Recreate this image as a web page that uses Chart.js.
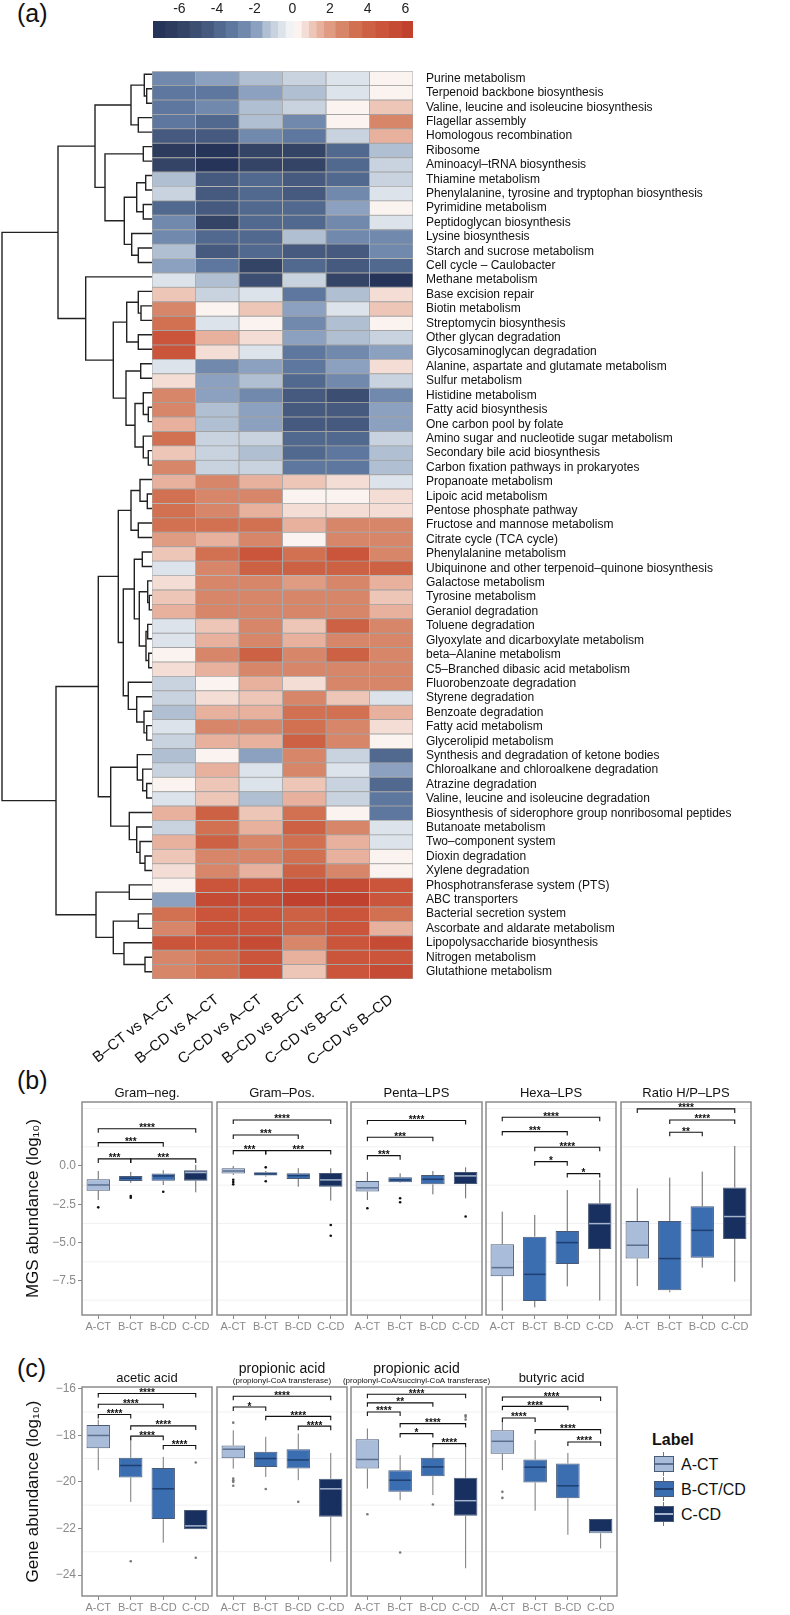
<!DOCTYPE html>
<html lang="en">
<head>
<meta charset="UTF-8" />
<title>KEGG pathways heatmap and abundance boxplots</title>
<script src="https://cdn.jsdelivr.net/npm/chart.js"></script>
<style>
  body { margin: 0; background: #fff; font-family: "Liberation Sans", Arial, Helvetica, sans-serif; }
  #page { position: relative; width: 790px; height: 1615px; overflow: hidden; background: #fff; }
  canvas { position: absolute; }
  .tag { position: absolute; font-size: 25px; line-height: 1; color: #111; }
  .leg { position: absolute; font-size: 16px; line-height: 1; color: #111; }
  .key { position: absolute; width: 20px; height: 24px; }
  .key .wh { position: absolute; left: 9px; top: 0; width: 1px; height: 24px; background: #777; }
  .key .bx { position: absolute; left: 0; top: 4px; width: 18px; height: 14px; border: 1px solid #4a5a75; }
  .key .md { position: absolute; left: 1px; top: 11px; width: 18px; height: 2px; }
</style>
</head>
<body>
<div id="page">
  <div class="tag" style="left:17px; top:1px;">(a)</div>
  <div class="tag" style="left:17px; top:1068px;">(b)</div>
  <div class="tag" style="left:17px; top:1356px;">(c)</div>

  <div class="leg" style="left:652px; top:1432px; font-weight:bold;">Label</div>
  <div class="key" style="left:654px; top:1452px;"><div class="wh"></div><div class="bx" style="background:#a9bcd9"></div><div class="md" style="background:#5d6f8f"></div></div>
  <div class="leg" style="left:681px; top:1457px;">A-CT</div>
  <div class="key" style="left:654px; top:1477px;"><div class="wh"></div><div class="bx" style="background:#3b6db1"></div><div class="md" style="background:#1e3f70"></div></div>
  <div class="leg" style="left:681px; top:1482px;">B-CT/CD</div>
  <div class="key" style="left:654px; top:1502px;"><div class="wh"></div><div class="bx" style="background:#18305f"></div><div class="md" style="background:#a5b4cc"></div></div>
  <div class="leg" style="left:681px; top:1507px;">C-CD</div>
</div>

<script>
// ---------- heatmap data ----------
const pathways = [
  'Purine metabolism', 'Terpenoid backbone biosynthesis', 'Valine, leucine and isoleucine biosynthesis',
  'Flagellar assembly', 'Homologous recombination', 'Ribosome', 'Aminoacyl–tRNA biosynthesis',
  'Thiamine metabolism', 'Phenylalanine, tyrosine and tryptophan biosynthesis', 'Pyrimidine metabolism',
  'Peptidoglycan biosynthesis', 'Lysine biosynthesis', 'Starch and sucrose metabolism',
  'Cell cycle – Caulobacter', 'Methane metabolism', 'Base excision repair', 'Biotin metabolism',
  'Streptomycin biosynthesis', 'Other glycan degradation', 'Glycosaminoglycan degradation',
  'Alanine, aspartate and glutamate metabolism', 'Sulfur metabolism', 'Histidine metabolism',
  'Fatty acid biosynthesis', 'One carbon pool by folate', 'Amino sugar and nucleotide sugar metabolism',
  'Secondary bile acid biosynthesis', 'Carbon fixation pathways in prokaryotes', 'Propanoate metabolism',
  'Lipoic acid metabolism', 'Pentose phosphate pathway', 'Fructose and mannose metabolism',
  'Citrate cycle (TCA cycle)', 'Phenylalanine metabolism', 'Ubiquinone and other terpenoid–quinone biosynthesis',
  'Galactose metabolism', 'Tyrosine metabolism', 'Geraniol degradation', 'Toluene degradation',
  'Glyoxylate and dicarboxylate metabolism', 'beta–Alanine metabolism', 'C5–Branched dibasic acid metabolism',
  'Fluorobenzoate degradation', 'Styrene degradation', 'Benzoate degradation', 'Fatty acid metabolism',
  'Glycerolipid metabolism', 'Synthesis and degradation of ketone bodies',
  'Chloroalkane and chloroalkene degradation', 'Atrazine degradation',
  'Valine, leucine and isoleucine degradation', 'Biosynthesis of siderophore group nonribosomal peptides',
  'Butanoate metabolism', 'Two–component system', 'Dioxin degradation', 'Xylene degradation',
  'Phosphotransferase system (PTS)', 'ABC transporters', 'Bacterial secretion system',
  'Ascorbate and aldarate metabolism', 'Lipopolysaccharide biosynthesis', 'Nitrogen metabolism',
  'Glutathione metabolism'
];
const comparisons = ['B–CT vs A–CT', 'B–CD vs A–CT', 'C–CD vs A–CT', 'B–CD vs B–CT', 'C–CD vs B–CT', 'C–CD vs B–CD'];

const bctVsAct = [-2.6,-3.2,-3.2,-3.2,-4.5,-6.6,-5.8,-1.4,-1.0,-3.9,-2.6,-2.6,-1.4,-2.0,-0.5,1.1,2.6,3.0,4.6,4.6,
  -0.5,0.6,2.6,2.6,1.5,3.3,1.1,2.6,1.5,3.3,3.0,3.3,2.0,1.1,-0.5,0.6,1.1,1.5,-0.5,-0.5,
  0.2,0.6,-1.0,-1.0,-1.4,-0.5,-1.0,-1.4,-1.0,0.2,-0.5,1.5,-1.0,1.5,1.1,0.6,0.2,-2.0,3.3,2.6,4.8,2.6,2.6];
const bcdVsAct = [-2.0,-3.2,-2.6,-3.9,-4.5,-7.0,-7.0,-4.2,-4.5,-4.5,-5.5,-3.6,-4.5,-3.2,-1.4,-1.0,0.2,-0.5,1.5,0.6,
  -2.6,-2.0,-2.0,-1.4,-1.4,-1.0,-1.0,-1.0,2.6,2.6,2.6,3.3,1.5,3.3,2.6,2.6,2.6,2.6,1.1,1.5,
  2.6,1.5,0.2,0.6,1.5,2.6,1.5,0.2,1.5,1.1,1.1,4.2,3.3,4.2,2.6,2.6,4.8,5.3,4.8,4.8,4.8,3.3,3.3];
const ccdVsAct = [-1.4,-2.0,-1.4,-1.4,-2.6,-5.8,-5.8,-3.6,-3.6,-3.6,-3.9,-3.6,-3.9,-5.5,-5.0,-0.5,1.1,0.2,0.6,-0.5,
  -2.0,-1.4,-2.6,-2.0,-2.0,-1.0,-1.4,-1.0,1.5,2.6,1.5,3.3,2.6,4.6,3.8,2.6,2.6,2.6,2.6,2.6,
  3.8,2.6,1.5,1.1,1.5,2.6,1.5,-2.0,-0.5,-0.5,-1.4,1.1,1.5,2.6,2.6,1.5,4.8,5.7,4.8,4.8,5.7,4.8,4.8];
const bcdVsBct = [-1.0,-1.4,-1.0,-2.6,-3.2,-5.5,-5.5,-4.5,-4.5,-3.9,-3.9,-1.4,-4.5,-3.9,-1.0,-3.2,-2.0,-2.6,-2.0,-3.2,
  -3.2,-3.9,-4.5,-4.5,-4.5,-3.9,-3.9,-3.2,1.1,0.2,0.6,1.5,0.2,3.3,3.8,2.0,2.6,2.6,1.1,1.5,
  2.6,2.6,0.6,2.6,3.3,3.3,4.2,2.6,2.6,1.1,1.5,3.3,4.2,3.3,3.3,4.2,5.3,6.1,4.2,4.2,2.6,1.5,1.1];
const ccdVsBct = [-0.5,-0.5,0.2,0.2,-1.0,-3.9,-3.9,-3.6,-2.6,-2.0,-2.6,-2.6,-4.5,-4.5,-5.5,-1.4,-0.5,-1.4,-1.4,-2.6,
  -2.0,-2.6,-5.0,-4.5,-4.2,-3.9,-3.2,-3.2,0.6,0.2,0.6,2.6,2.6,4.6,3.8,2.6,2.6,2.6,3.8,2.6,
  3.8,2.6,2.6,1.1,3.3,2.6,2.6,-1.0,-0.5,-1.0,-1.0,0.2,2.6,1.5,1.5,2.6,5.3,6.1,4.8,4.6,4.8,4.8,4.8];
const ccdVsBcd = [0.2,0.2,1.1,2.6,1.5,-1.4,-1.0,-1.0,-0.5,0.2,-0.5,-2.6,-2.6,-3.9,-7.0,0.6,1.1,0.2,-1.0,-2.0,
  0.6,-1.0,-2.6,-2.0,-2.0,-1.0,-1.4,-1.4,-0.5,0.6,0.6,2.6,2.6,2.6,3.8,1.5,1.1,1.5,2.6,2.6,
  2.6,2.6,2.6,-0.5,1.5,0.6,0.2,-3.6,-2.0,-3.6,-3.0,-3.0,-0.5,-0.5,0.2,0.2,4.8,4.8,3.3,1.5,5.7,4.8,5.3];

// colour key: block edges and tick labels
const scaleBreaks = [-7.4,-6.74,-6.12,-5.47,-4.83,-4.18,-3.56,-2.9,-2.23,-1.61,-1.17,-0.78,-0.37,0.04,
  0.48,0.87,1.27,1.66,2.28,2.99,3.7,4.41,5.12,5.82,6.41];
const scaleTicks = [-6, -4, -2, 0, 2, 4, 6];
const scaleColors = ['#27345a','#2d3b5f','#344467','#3d4e73','#465a80','#52698f','#5d779e','#7189ad',
  '#8ba1bf','#b0bfd2','#c8d3df','#dde3eb','#f1f2f4','#faf3f0','#f4ddd5','#edc6b8','#e7b19e','#e09c83',
  '#d7866a','#d27152','#cd6143','#ca553a','#c64b35','#c1412f'];

// row dendrogram: [merge height, left, right], leaves are row indices
const rowTree = [150,
  [94,
    [57,
      [21, [7.7, 0, [5.3, 1, 2]], [13.7, 3, 4]],
      [47, [8.7, 5, 6], [27.7, [15.3, [6.3, 7, 8], [8.7, 9, 10]], [20.3, 11, [13.7, 12, 13]]]]],
    [66.3, 14,
      [38.7,
        [25.3, [13.7, 15, [11, 16, 17]], [13.7, 18, 19]],
        [26, [11.3, 20, 21], [17, [8.7, 22, [3.7, 23, 24]], [8.7, 25, [3.7, 26, 27]]]]]]],
  [96,
    [53.7,
      [33.7,
        [21, [12, 28, [4.7, 29, 30]], [13.7, 31, 32]],
        [28.7,
          [17.7, [9.7, 33, 34], [12.7, [4.3, 35, [2.7, 36, 37]], [6, [4.3, 38, 39], [3.3, 40, 41]]]],
          [23.7, 42, [15.3, 43, [8, 44, [5.3, 45, 46]]]]]],
      [41.3,
        [14.7, 47, [9.3, 48, [5.3, 49, 50]]],
        [22.7, 51, [15.3, 52, [12, 53, [7, 54, 55]]]]]],
    [56, [22.7, 56, 57], [38.7, [13.7, 58, 59], [28, 60, [7, 61, 62]]]]]];

// ---------- boxplot data: [min, q1, median, q3, max] per group ----------
const groups = ['A-CT', 'B-CT', 'B-CD', 'C-CD'];

const gramNegStats = [[-2.22,-1.61,-1.24,-0.87,-0.33],[-1.1,-0.98,-0.8,-0.65,-0.39],[-1.24,-0.96,-0.65,-0.5,-0.28],[-1.72,-0.96,-0.43,-0.28,0.07]];
const gramNegOut = [[-2.7],[-1.96,-2.07],[-1.68],[]];
const gramNegSig = [[0,1,0.46,'***'],[1,3,0.46,'***'],[0,2,1.52,'***'],[0,3,2.43,'****']];

const gramPosStats = [[-0.59,-0.5,-0.33,-0.15,0.0],[-0.7,-0.63,-0.52,-0.41,-0.33],[-1.35,-0.85,-0.63,-0.48,-0.15],[-2.26,-1.35,-0.91,-0.46,-0.15]];
const gramPosOut = [[-0.9,-1.05,-1.2],[-0.09,-1.0],[],[-3.85,-4.55]];
const gramPosSig = [[0,1,1.0,'***'],[1,3,1.0,'***'],[0,2,2.02,'***'],[0,3,3.0,'****']];

const pentaStats = [[-2.22,-1.67,-1.43,-0.98,-0.39],[-1.1,-1.07,-0.91,-0.74,-0.48],[-1.85,-1.2,-0.87,-0.59,-0.33],[-2.11,-1.17,-0.65,-0.39,-0.09]];
const pentaOut = [[-2.76],[-2.11,-2.37],[],[-3.3]];
const pentaSig = [[0,1,0.67,'***'],[0,2,1.87,'***'],[0,3,2.96,'****']];

const hexaStats = [[-9.44,-7.2,-6.63,-5.11,-2.98],[-9.22,-8.81,-7.07,-4.61,-3.2],[-7.85,-6.39,-5.0,-4.24,-1.57],[-8.78,-5.41,-3.76,-2.43,-0.91]];
const hexaOut = [[],[],[],[]];
const hexaSig = [[0,3,3.18,'****'],[0,2,2.24,'***'],[1,3,1.22,'****'],[1,2,0.28,'*'],[2,3,-0.5,'*']];

const ratioStats = [[-7.83,-6.04,-5.17,-3.59,-1.46],[-8.24,-8.11,-6.04,-3.59,-0.76],[-6.63,-5.98,-4.2,-2.63,-0.37],[-7.55,-4.76,-3.3,-1.41,1.3]];
const ratioOut = [[],[],[],[]];
const ratioSig = [[0,3,3.72,'****'],[1,3,3.0,'****'],[1,2,2.2,'**']];

const aceticStats = [[-19.5,-18.56,-18.01,-17.56,-17.33],[-20.86,-19.81,-19.3,-18.97,-18.1],[-22.61,-21.6,-20.3,-19.41,-18.93],[-22.03,-22.03,-21.89,-21.21,-21.21]];
const aceticOut = [[],[-23.41],[],[-19.17,-23.26]];
const aceticSig = [[0,3,-16.21,'****'],[0,2,-16.67,'****'],[0,1,-17.11,'****'],[1,3,-17.6,'****'],[1,2,-18.04,'****'],[2,3,-18.44,'****']];

const propATStats = [[-19.43,-18.99,-18.6,-18.44,-17.79],[-19.79,-19.36,-19.0,-18.71,-18.07],[-19.93,-19.43,-19.06,-18.6,-17.93],[-23.43,-21.5,-20.3,-19.87,-18.76]];
const propATOut = [[-17.46,-19.86,-19.93,-20.0,-20.17],[-20.31],[-20.86],[]];
const propATSig = [[0,3,-16.33,'****'],[0,1,-16.79,'*'],[1,3,-17.19,'****'],[2,3,-17.61,'****']];

const propSTStats = [[-20.29,-19.43,-19.04,-18.17,-17.71],[-20.79,-20.43,-19.93,-19.5,-18.86],[-20.57,-19.76,-19.36,-18.97,-18.53],[-23.71,-21.46,-20.81,-19.83,-18.54]];
const propSTOut = [[-21.39],[-23.03],[-20.97],[-17.14,-17.21,-17.33]];
const propSTSig = [[0,3,-16.24,'****'],[0,2,-16.61,'**'],[0,1,-17.0,'****'],[1,3,-17.5,'****'],[1,2,-17.93,'*'],[2,3,-18.36,'****']];

const butyricStats = [[-19.5,-18.79,-18.26,-17.79,-17.36],[-21.24,-20.03,-19.37,-19.04,-18.21],[-22.27,-20.71,-20.17,-19.21,-18.76],[-22.86,-22.21,-22.15,-21.6,-21.6]];
const butyricOut = [[-20.43,-20.69],[],[],[]];
const butyricSig = [[0,3,-16.36,'****'],[0,2,-16.76,'****'],[0,1,-17.26,'****'],[1,3,-17.76,'****'],[2,3,-18.29,'****']];

const mgsTicks = [0, -2.5, -5, -7.5];
const mgsMinor = [3.75, 1.25, -1.25, -3.75, -6.25, -8.75];
const geneTicks = [-16, -18, -20, -22, -24];
const geneMinor = [-17, -19, -21, -23];

// ---------- look ----------
const FONT = '"Liberation Sans", Arial, Helvetica, sans-serif';
Chart.defaults.font.family = FONT;
Chart.defaults.color = '#111';
Chart.defaults.animation = false;
Chart.defaults.responsive = false;
Chart.defaults.plugins.legend.display = false;
Chart.defaults.plugins.tooltip.enabled = false;

const boxFill = ['#a9bcd9', '#3b6db1', '#3b6db1', '#18305f'];
const medColors = ['#5d6f8f', '#1e3f70', '#1e3f70', '#a5b4cc'];

function place(id, left, top, w, h) {
  const c = document.createElement('canvas');
  c.id = id;
  c.width = w;
  c.height = h;
  c.style.left = left + 'px';
  c.style.top = top + 'px';
  document.getElementById('page').appendChild(c);
  return c;
}

function cellColor(v) {
  for (let i = 0; i < scaleColors.length; i++) {
    if (v < scaleBreaks[i + 1]) return scaleColors[i];
  }
  return scaleColors[scaleColors.length - 1];
}

// colour key
new Chart(place('key', 0, 0, 790, 38), {
  type: 'bar',
  data: {
    labels: [''],
    datasets: scaleColors.map((c, i) => ({
      data: [[scaleBreaks[i], scaleBreaks[i + 1]]],
      backgroundColor: c, borderWidth: 0, grouped: false,
      barPercentage: 1, categoryPercentage: 1
    }))
  },
  options: {
    indexAxis: 'y',
    layout: { padding: { left: 153, right: 377 } },
    scales: {
      x: {
        position: 'top', min: scaleBreaks[0], max: scaleBreaks[scaleBreaks.length - 1],
        afterBuildTicks: s => { s.ticks = scaleTicks.map(v => ({ value: v })); },
        afterFit: s => { s.height = 21; },
        grid: { display: false, drawTicks: false }, border: { display: false },
        ticks: { font: { size: 14 }, color: '#222', padding: 3 }
      },
      y: { display: false }
    }
  }
});

// heatmap
const heatCols = [bctVsAct, bcdVsAct, ccdVsAct, bcdVsBct, ccdVsBct, ccdVsBcd];
new Chart(place('heat', 0, 59, 790, 1041), {
  type: 'bar',
  data: {
    labels: pathways,
    datasets: heatCols.map(col => ({
      data: col.map(() => 1),
      backgroundColor: col.map(cellColor),
      borderColor: '#a3a3a3', borderWidth: 0.8, borderSkipped: false,
      barPercentage: 1, categoryPercentage: 1, xAxisID: 'x'
    }))
  },
  options: {
    indexAxis: 'y',
    layout: { padding: { left: 152, top: 8 } },
    scales: {
      x: { display: false, stacked: true, min: 0, max: heatCols.length },
      cmp: {
        type: 'category', labels: comparisons, position: 'bottom', offset: true,
        afterFit: s => { s.height = 121; },
        grid: { display: false }, border: { display: false },
        ticks: { minRotation: 38, maxRotation: 38, autoSkip: false, font: { size: 15 }, color: '#111', padding: 4 }
      },
      y: {
        position: 'right', stacked: true,
        afterFit: s => { s.width = 377; },
        grid: { display: false }, border: { display: false },
        ticks: { autoSkip: false, font: { size: 12 }, color: '#111', padding: 5 }
      }
    }
  }
});

// dendrogram
const links = [];
function walk(node) {
  if (!Array.isArray(node)) return { y: node, h: 0 };
  const l = walk(node[1]), r = walk(node[2]);
  links.push([{ x: l.h, y: l.y }, { x: node[0], y: l.y }, { x: node[0], y: r.y }, { x: r.h, y: r.y }]);
  return { y: (l.y + r.y) / 2, h: node[0] };
}
walk(rowTree);
new Chart(place('tree', 0, 67, 152, 912), {
  type: 'scatter',
  data: {
    datasets: links.map(pts => ({
      data: pts, showLine: true, borderColor: '#222', borderWidth: 1.4, pointRadius: 0, tension: 0
    }))
  },
  options: {
    scales: {
      x: { display: false, reverse: true, min: 0, max: 152 },
      y: { display: false, reverse: true, min: -0.5, max: pathways.length - 0.5 }
    }
  }
});

// boxplot panels
function makeDeco(p) {
  return {
    id: 'deco',
    beforeDatasetsDraw(chart) {
      const { ctx, chartArea: a, scales: { x, y } } = chart;
      ctx.save();
      ctx.strokeStyle = '#f1f1f1';
      ctx.lineWidth = 1;
      p.minor.forEach(v => {
        const py = y.getPixelForValue(v);
        if (py > a.top && py < a.bottom) {
          ctx.beginPath(); ctx.moveTo(a.left, py); ctx.lineTo(a.right, py); ctx.stroke();
        }
      });
      ctx.strokeStyle = p.whisker;
      p.stats.forEach((s, i) => {
        const px = x.getPixelForValue(i);
        ctx.beginPath();
        ctx.moveTo(px, y.getPixelForValue(s[0])); ctx.lineTo(px, y.getPixelForValue(s[1]));
        ctx.moveTo(px, y.getPixelForValue(s[3])); ctx.lineTo(px, y.getPixelForValue(s[4]));
        ctx.stroke();
      });
      ctx.restore();
    },
    afterDatasetsDraw(chart) {
      const { ctx, chartArea: a, scales: { x, y } } = chart;
      const meta = chart.getDatasetMeta(0);
      ctx.save();
      ctx.lineWidth = 1.5;
      p.stats.forEach((s, i) => {
        const bar = meta.data[i];
        const py = y.getPixelForValue(s[2]);
        ctx.strokeStyle = medColors[i];
        ctx.beginPath();
        ctx.moveTo(bar.x - bar.width / 2 + 1, py); ctx.lineTo(bar.x + bar.width / 2 - 1, py);
        ctx.stroke();
      });
      ctx.fillStyle = p.outColor;
      p.out.forEach((list, i) => list.forEach(v => {
        ctx.beginPath();
        ctx.arc(x.getPixelForValue(i), y.getPixelForValue(v), 1.3, 0, Math.PI * 2);
        ctx.fill();
      }));
      ctx.strokeStyle = '#111';
      ctx.fillStyle = '#111';
      ctx.lineWidth = 1.1;
      ctx.font = 'bold 10px ' + FONT;
      ctx.textAlign = 'center';
      ctx.textBaseline = 'alphabetic';
      p.sig.forEach(([i, j, v, lab]) => {
        const x1 = x.getPixelForValue(i), x2 = x.getPixelForValue(j), py = y.getPixelForValue(v);
        ctx.beginPath();
        ctx.moveTo(x1, py + 4); ctx.lineTo(x1, py); ctx.lineTo(x2, py); ctx.lineTo(x2, py + 4);
        ctx.stroke();
        ctx.fillText(lab, (x1 + x2) / 2, py + 2.5);
      });
      ctx.strokeStyle = '#8c8c8c';
      ctx.lineWidth = 1.5;
      ctx.strokeRect(a.left, a.top, a.right - a.left, a.bottom - a.top);
      const cx = (a.left + a.right) / 2;
      if (p.sub) {
        ctx.font = '14px ' + FONT;
        ctx.fillText(p.title, cx, a.top - 14);
        ctx.font = '8px ' + FONT;
        ctx.fillText(p.sub, cx, a.top - 4);
      } else {
        ctx.font = '13px ' + FONT;
        ctx.fillText(p.title, cx, a.top - 5);
      }
      ctx.restore();
    }
  };
}

function boxPanel(id, p) {
  const first = !!p.axisTitle;
  const side = first ? 0 : 30;
  const canvasLeft = first ? 0 : p.x0 - side;
  const w = p.x1 - canvasLeft + 30;
  const h = 30 + (p.y1 - p.y0) + 24;
  const yAxis = {
    display: first, min: p.yMin, max: p.yMax,
    afterBuildTicks: s => { s.ticks = p.ticks.map(v => ({ value: v })); },
    grid: { drawOnChartArea: false, tickLength: 4, color: '#888' },
    border: { display: false },
    ticks: { color: '#8a8a8a', font: { size: 12 }, padding: 2, callback: v => p.fmt(v) }
  };
  if (first) {
    yAxis.afterFit = s => { s.width = p.x0; };
    yAxis.title = { display: true, text: p.axisTitle, font: { size: 17 }, color: '#111', padding: { top: 23, bottom: 0 } };
  }
  new Chart(place(id, canvasLeft, p.y0 - 30, w, h), {
    type: 'bar',
    data: {
      labels: groups,
      datasets: [{
        data: p.stats.map(s => [s[1], s[3]]),
        backgroundColor: boxFill, borderColor: '#4a5a75', borderWidth: 1, borderSkipped: false,
        barPercentage: 0.72, categoryPercentage: 1
      }]
    },
    options: {
      layout: { padding: { top: 30, left: side, right: 30 } },
      scales: {
        x: {
          afterFit: s => { s.height = 24; },
          grid: { drawOnChartArea: false, offset: false, tickLength: 4, color: '#888' },
          border: { display: false },
          ticks: { color: '#8a8a8a', font: { size: 11 }, padding: 1, maxRotation: 0, minRotation: 0, autoSkip: false }
        },
        y: yAxis
      }
    },
    plugins: [makeDeco(p)]
  });
}

const fmtB = v => v.toFixed(1).replace('-', '\u2212');
const fmtC = v => String(v).replace('-', '\u2212');
const rowB = { y0: 1102, y1: 1315, yMin: -9.72, yMax: 4.17, ticks: mgsTicks, minor: mgsMinor, fmt: fmtB, outColor: '#111', whisker: '#666' };
const rowC = { y0: 1387, y1: 1596, yMin: -24.9, yMax: -15.93, ticks: geneTicks, minor: geneMinor, fmt: fmtC, outColor: '#7a7a7a', whisker: '#777' };

boxPanel('b1', Object.assign({}, rowB, { x0: 82, x1: 212, title: 'Gram–neg.', axisTitle: 'MGS abundance (log\u2081\u2080)', stats: gramNegStats, out: gramNegOut, sig: gramNegSig }));
boxPanel('b2', Object.assign({}, rowB, { x0: 217, x1: 347, title: 'Gram–Pos.', stats: gramPosStats, out: gramPosOut, sig: gramPosSig }));
boxPanel('b3', Object.assign({}, rowB, { x0: 351, x1: 482, title: 'Penta–LPS', stats: pentaStats, out: pentaOut, sig: pentaSig }));
boxPanel('b4', Object.assign({}, rowB, { x0: 486, x1: 616, title: 'Hexa–LPS', stats: hexaStats, out: hexaOut, sig: hexaSig }));
boxPanel('b5', Object.assign({}, rowB, { x0: 621, x1: 751, title: 'Ratio H/P–LPS', stats: ratioStats, out: ratioOut, sig: ratioSig }));

boxPanel('c1', Object.assign({}, rowC, { x0: 82, x1: 212, title: 'acetic acid', axisTitle: 'Gene abundance (log\u2081\u2080)', stats: aceticStats, out: aceticOut, sig: aceticSig }));
boxPanel('c2', Object.assign({}, rowC, { x0: 217, x1: 347, title: 'propionic acid', sub: '(propionyl-CoA transferase)', stats: propATStats, out: propATOut, sig: propATSig }));
boxPanel('c3', Object.assign({}, rowC, { x0: 351, x1: 482, title: 'propionic acid', sub: '(propionyl-CoA/succinyl-CoA transferase)', stats: propSTStats, out: propSTOut, sig: propSTSig }));
boxPanel('c4', Object.assign({}, rowC, { x0: 486, x1: 617, title: 'butyric acid', stats: butyricStats, out: butyricOut, sig: butyricSig }));
</script>
</body>
</html>
